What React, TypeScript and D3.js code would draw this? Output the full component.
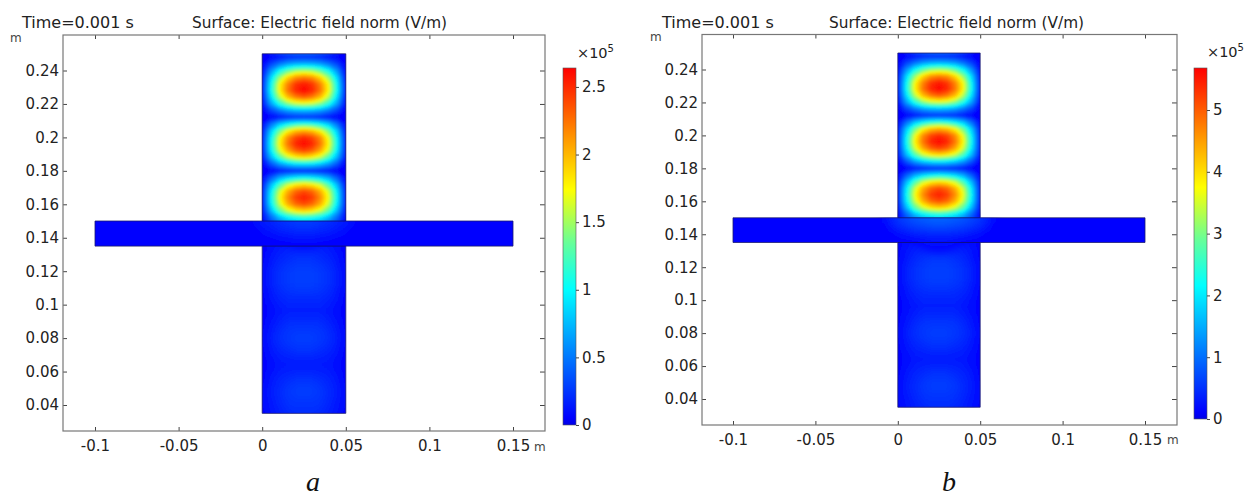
import React from 'react';
import * as d3 from 'd3';

const xTicks = [-0.1, -0.05, 0, 0.05, 0.1, 0.15];
const yTicks = [0.04, 0.06, 0.08, 0.1, 0.12, 0.14, 0.16, 0.18, 0.2, 0.22, 0.24];
const colorStops = [0, 0.02, 0.38, 0.51, 0.66, 0.8, 1];
const colorValues = ['#0000e6', '#0000ff', '#00ffff', '#66ff99', '#ffff00', '#ff9900', '#ff0000'];

// field values as a fraction of the colour range
// half of the guide width, x = 0 .. 0.025 in steps of 0.005 (the other half mirrors it)
const upperYs = d3.range(27).map((i) => 0.252 - i * 0.004);
const upperField = [
  [0.02, 0.09, 0.16, 0.2, 0.23, 0.24],
  [0.01, 0.03, 0.05, 0.07, 0.08, 0.08],
  [0.02, 0.11, 0.18, 0.24, 0.27, 0.28],
  [0.03, 0.22, 0.38, 0.49, 0.56, 0.58],
  [0.04, 0.32, 0.55, 0.71, 0.81, 0.84],
  [0.05, 0.37, 0.65, 0.83, 0.94, 0.98],
  [0.05, 0.38, 0.66, 0.85, 0.96, 1],
  [0.04, 0.33, 0.58, 0.75, 0.84, 0.88],
  [0.03, 0.24, 0.41, 0.53, 0.6, 0.62],
  [0.02, 0.11, 0.18, 0.24, 0.27, 0.28],
  [0.01, 0.03, 0.05, 0.07, 0.08, 0.08],
  [0.03, 0.17, 0.3, 0.38, 0.43, 0.45],
  [0.04, 0.3, 0.51, 0.66, 0.75, 0.78],
  [0.05, 0.36, 0.63, 0.82, 0.92, 0.96],
  [0.05, 0.38, 0.66, 0.85, 0.96, 1],
  [0.05, 0.35, 0.61, 0.78, 0.88, 0.92],
  [0.04, 0.27, 0.46, 0.6, 0.67, 0.7],
  [0.02, 0.13, 0.23, 0.3, 0.34, 0.35],
  [0.01, 0.03, 0.05, 0.06, 0.07, 0.07],
  [0.03, 0.14, 0.25, 0.32, 0.36, 0.38],
  [0.04, 0.27, 0.46, 0.6, 0.67, 0.7],
  [0.05, 0.35, 0.6, 0.77, 0.87, 0.91],
  [0.05, 0.37, 0.64, 0.82, 0.93, 0.97],
  [0.05, 0.35, 0.6, 0.77, 0.87, 0.91],
  [0.04, 0.27, 0.48, 0.61, 0.69, 0.72],
  [0.03, 0.16, 0.28, 0.36, 0.4, 0.42],
  [0.02, 0.11, 0.18, 0.24, 0.27, 0.28],
];
const lowerYs = d3.range(14).map((i) => 0.136 - i * 0.008);
const lowerField = [
  [0.02, 0.04, 0.05, 0.06, 0.06, 0.06],
  [0.02, 0.05, 0.07, 0.08, 0.09, 0.09],
  [0.03, 0.06, 0.09, 0.1, 0.11, 0.11],
  [0.03, 0.06, 0.09, 0.1, 0.11, 0.11],
  [0.02, 0.05, 0.07, 0.08, 0.08, 0.08],
  [0.02, 0.04, 0.05, 0.06, 0.06, 0.06],
  [0.02, 0.05, 0.07, 0.09, 0.09, 0.09],
  [0.03, 0.06, 0.09, 0.1, 0.11, 0.11],
  [0.02, 0.05, 0.07, 0.08, 0.09, 0.09],
  [0.02, 0.04, 0.05, 0.05, 0.05, 0.05],
  [0.02, 0.05, 0.07, 0.08, 0.09, 0.09],
  [0.03, 0.06, 0.08, 0.1, 0.11, 0.11],
  [0.03, 0.05, 0.07, 0.09, 0.09, 0.09],
  [0.02, 0.04, 0.06, 0.07, 0.08, 0.08],
];
// glow in the crossbar around the guide, x = -0.02 .. 0.07 in steps of 0.01
const barYs = [0.152, 0.147, 0.142, 0.137, 0.132];
const barGlowA = [
  [0, 0.02, 0.06, 0.09, 0.11, 0.11, 0.09, 0.06, 0.02, 0],
  [0, 0.01, 0.05, 0.08, 0.1, 0.1, 0.08, 0.05, 0.01, 0],
  [0, 0.01, 0.03, 0.05, 0.06, 0.06, 0.05, 0.03, 0.01, 0],
  [0, 0, 0.01, 0.02, 0.03, 0.03, 0.02, 0.01, 0, 0],
  [0, 0, 0.01, 0.02, 0.02, 0.02, 0.02, 0.01, 0, 0],
];
const barGlowB = [
  [0, 0.03, 0.1, 0.15, 0.17, 0.17, 0.15, 0.1, 0.03, 0],
  [0, 0.02, 0.09, 0.13, 0.15, 0.15, 0.13, 0.09, 0.02, 0],
  [0, 0.01, 0.05, 0.08, 0.09, 0.09, 0.08, 0.05, 0.01, 0],
  [0, 0, 0.02, 0.03, 0.04, 0.04, 0.03, 0.02, 0, 0],
  [0, 0, 0.01, 0.02, 0.03, 0.03, 0.02, 0.01, 0, 0],
];
const guideXs = d3.range(11).map((i) => i * 0.005);
const barXs = d3.range(10).map((i) => -0.02 + i * 0.01);

const panels = [
  {
    id: 'a', letter: 'a', barGlow: barGlowA, barTicks: [0, 0.5, 1, 1.5, 2, 2.5], barMax: 2.64,
    frame: { left: 63, right: 545, top: 35, bottom: 431 },
    xRange: [95, 513], yRange: [405, 70.5], colorBar: { left: 563, right: 576, top: 68, bottom: 425 },
    timeX: 22, titleX: 192, unitY: [10, 42], unitX: [534, 451], powerAt: [577, 58], letterAt: [306, 491],
  },
  {
    id: 'b', letter: 'b', barGlow: barGlowB, barTicks: [0, 1, 2, 3, 4, 5], barMax: 5.68,
    frame: { left: 702, right: 1177, top: 34.5, bottom: 425 },
    xRange: [733, 1145], yRange: [399, 69.5], colorBar: { left: 1194, right: 1207, top: 68, bottom: 419 },
    timeX: 662, titleX: 829, unitY: [650, 41], unitX: [1167, 444], powerAt: [1207, 57], letterAt: [942, 491],
  },
];

const mirrorRows = (rows) => rows.map((r) => [...r, ...r.slice(0, -1).reverse()]);
const colorScale = d3.scaleLinear().domain(colorStops).range(colorValues).clamp(true);
const thresholds = [...d3.range(0.024, 0.2, 0.004), ...d3.range(0.2, 1, 0.015)];
const font = "'DejaVu Sans', sans-serif";

function styleAxis(group, fontSize = 15) {
  group.select('.domain').remove();
  group.selectAll('line').attr('stroke', '#444').attr('stroke-width', 1);
  group.selectAll('text').attr('font-family', font).attr('font-size', fontSize).attr('fill', '#222');
}

function drawField(root, xs, ys, rows, x, y) {
  const w = xs.length;
  const h = ys.length;
  const values = rows.flat();
  const toPlot = d3.geoTransform({
    point(px, py) {
      const xv = xs[0] + (px - 0.5) * (xs[1] - xs[0]);
      const yv = ys[0] + (py - 0.5) * (ys[1] - ys[0]);
      this.stream.point(x(xv), y(yv));
    },
  });
  const path = d3.geoPath(toPlot);
  root.selectAll(null)
    .data(d3.contours().size([w, h]).thresholds(thresholds)(values))
    .enter()
    .append('path')
    .attr('d', path)
    .attr('fill', (d) => colorScale(d.value));
}

function addBlur(defs, id, amount) {
  defs.append('filter').attr('id', id).attr('filterUnits', 'userSpaceOnUse')
    .attr('x', 0).attr('y', 0).attr('width', 1246).attr('height', 498)
    .append('feGaussianBlur').attr('stdDeviation', amount);
}

function drawPanel(svg, p) {
  const x = d3.scaleLinear().domain([-0.1, 0.15]).range(p.xRange);
  const y = d3.scaleLinear().domain([0.04, 0.24]).range(p.yRange);
  const f = p.frame;
  const g = svg.append('g');
  const defs = g.append('defs');

  // clip region per piece of the T
  const guide = { x: x(0), y: y(0.25), width: x(0.05) - x(0), height: y(0.035) - y(0.25) };
  const bar = { x: x(-0.1), y: y(0.15), width: x(0.15) - x(-0.1), height: y(0.135) - y(0.15) };
  const clip = defs.append('clipPath').attr('id', `shape-${p.id}`);
  [guide, bar].forEach((r) => clip.append('rect').attr('x', r.x).attr('y', r.y).attr('width', r.width).attr('height', r.height));
  addBlur(defs, `soft-${p.id}`, 1.6);
  addBlur(defs, `softer-${p.id}`, 4);

  // surface plot
  const surface = g.append('g').attr('clip-path', `url(#shape-${p.id})`);
  [guide, bar].forEach((r) => surface.append('rect').attr('x', r.x).attr('y', r.y).attr('width', r.width).attr('height', r.height).attr('fill', colorScale(0.02)));
  const lower = surface.append('g').attr('filter', `url(#softer-${p.id})`);
  drawField(lower, guideXs, lowerYs, mirrorRows(lowerField), x, y);
  // the crossbar sits over the lower guide
  surface.append('rect').attr('x', bar.x).attr('y', bar.y).attr('width', bar.width).attr('height', bar.height).attr('fill', colorScale(0.02));
  const glow = surface.append('g').attr('filter', `url(#softer-${p.id})`);
  drawField(glow, barXs, barYs, p.barGlow, x, y);
  defs.append('clipPath').attr('id', `upper-${p.id}`).append('rect')
    .attr('x', guide.x).attr('y', guide.y).attr('width', guide.width).attr('height', y(0.15) - y(0.25));
  const upperClip = surface.append('g').attr('clip-path', `url(#upper-${p.id})`);
  const upper = upperClip.append('g').attr('filter', `url(#soft-${p.id})`);
  upper.append('rect').attr('x', guide.x - 5).attr('y', guide.y - 5).attr('width', guide.width + 10).attr('height', y(0.15) - y(0.25) + 10).attr('fill', colorScale(0.02));
  drawField(upper, guideXs, upperYs, mirrorRows(upperField), x, y);

  // outline of the T
  const outline = d3.path();
  outline.moveTo(x(0), y(0.15));
  outline.lineTo(x(0), y(0.25));
  outline.lineTo(x(0.05), y(0.25));
  outline.lineTo(x(0.05), y(0.15));
  outline.lineTo(x(0.15), y(0.15));
  outline.lineTo(x(0.15), y(0.135));
  outline.lineTo(x(0.05), y(0.135));
  outline.lineTo(x(0.05), y(0.035));
  outline.lineTo(x(0), y(0.035));
  outline.lineTo(x(0), y(0.135));
  outline.lineTo(x(-0.1), y(0.135));
  outline.lineTo(x(-0.1), y(0.15));
  outline.closePath();
  g.append('path').attr('d', outline.toString()).attr('fill', 'none').attr('stroke', '#1a1a70').attr('stroke-width', 0.8);
  [0.15, 0.135].forEach((v) => g.append('line').attr('x1', x(0)).attr('x2', x(0.05)).attr('y1', y(v)).attr('y2', y(v)).attr('stroke', '#10106a').attr('stroke-width', 0.8));

  // axes, ticks point into the frame
  const bottom = g.append('g').attr('transform', `translate(0,${f.bottom})`)
    .call(d3.axisBottom(x).tickValues(xTicks).tickSize(-4).tickPadding(9).tickFormat((d) => String(d)));
  styleAxis(bottom);
  const left = g.append('g').attr('transform', `translate(${f.left},0)`)
    .call(d3.axisLeft(y).tickValues(yTicks).tickSize(-4).tickPadding(4).tickFormat((d) => String(d)));
  styleAxis(left);
  const top = g.append('g').attr('transform', `translate(0,${f.top})`)
    .call(d3.axisTop(x).tickValues(xTicks).tickSize(-4).tickFormat(() => ''));
  styleAxis(top);
  const right = g.append('g').attr('transform', `translate(${f.right},0)`)
    .call(d3.axisRight(y).tickValues(yTicks).tickSize(-5).tickFormat(() => ''));
  styleAxis(right);
  g.append('rect').attr('x', f.left).attr('y', f.top).attr('width', f.right - f.left).attr('height', f.bottom - f.top)
    .attr('fill', 'none').attr('stroke', '#777').attr('stroke-width', 1.2);

  // labels
  const label = (tx, ty, text, size, fill = '#222') => g.append('text').attr('x', tx).attr('y', ty)
    .attr('font-family', font).attr('font-size', size).attr('fill', fill).text(text);
  label(p.timeX, 28, 'Time=0.001 s', 16);
  label(p.titleX, 28, 'Surface: Electric field norm (V/m)', 15.3);
  label(p.unitY[0], p.unitY[1], 'm', 12, '#444');
  label(p.unitX[0], p.unitX[1], 'm', 12, '#444');
  const power = label(p.powerAt[0], p.powerAt[1], '×10', 14.5);
  power.append('tspan').attr('dy', -6).attr('font-size', 10).text('5');
  g.append('text').attr('x', p.letterAt[0]).attr('y', p.letterAt[1])
    .attr('font-family', "'Liberation Serif', serif").attr('font-style', 'italic').attr('font-size', 28).attr('fill', '#111').text(p.letter);

  // colour bar
  const c = p.colorBar;
  const grad = defs.append('linearGradient').attr('id', `bar-${p.id}`).attr('x1', 0).attr('x2', 0).attr('y1', 1).attr('y2', 0);
  colorStops.forEach((s, i) => grad.append('stop').attr('offset', s).attr('stop-color', colorValues[i]));
  g.append('rect').attr('x', c.left).attr('y', c.top).attr('width', c.right - c.left).attr('height', c.bottom - c.top)
    .attr('fill', `url(#bar-${p.id})`).attr('stroke', '#555').attr('stroke-width', 0.6);
  const barScale = d3.scaleLinear().domain([0, p.barMax]).range([c.bottom, c.top]);
  const barAxis = g.append('g').attr('transform', `translate(${c.right},0)`)
    .call(d3.axisRight(barScale).tickValues(p.barTicks).tickSize(3).tickPadding(3).tickFormat((d) => String(d)));
  styleAxis(barAxis);
}

function App() {
  const svgRef = React.useRef(null);

  React.useEffect(() => {
    const svg = d3.select(svgRef.current);
    svg.selectAll('*').remove();
    panels.forEach((p) => drawPanel(svg, p));
  }, []);

  return (
    <svg
      ref={svgRef}
      width={1246}
      height={498}
      style={{ position: 'absolute', left: 0, top: 0, background: '#fff' }}
    />
  );
}

export default App;
